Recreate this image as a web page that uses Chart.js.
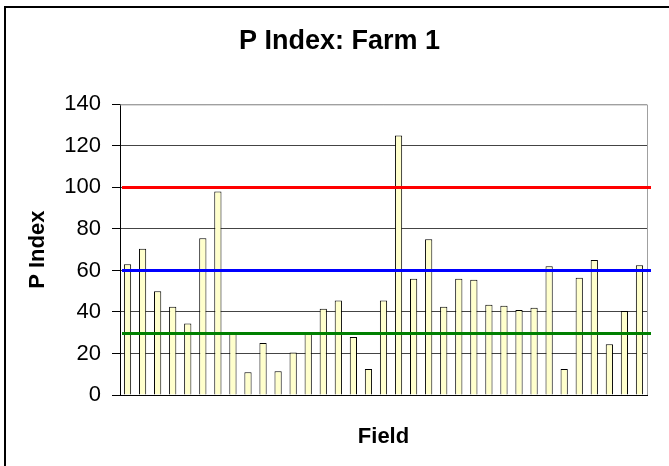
<!DOCTYPE html>
<html>
<head>
<meta charset="utf-8">
<script src="https://cdn.jsdelivr.net/npm/chart.js@4/dist/chart.umd.min.js"></script>
<style>
  body { margin: 0; background: #fff; }
  #wrap { position: relative; width: 669px; height: 466px; }
  #frame { position: absolute; left: 4px; top: 6px; right: 0; bottom: 0;
           border-left: 2px solid #000; border-top: 2px solid #000; pointer-events: none; }
</style>
</head>
<body>
<div id="wrap">
  <canvas id="pChart" width="669" height="466"></canvas>
  <div id="frame"></div>
</div>
<script>
// fields 1..35
const fields = [];
for (let i = 1; i <= 35; i++) fields.push(String(i));

const pIndex = [63, 70.5, 50, 42.5, 34.5, 75.5, 98, 29.5, 11, 25,
                11.5, 20.5, 29.5, 41.5, 45.5, 28, 12.5, 45.5, 125, 56,
                75, 42.5, 56, 55.5, 43.5, 43, 41, 42, 62, 12.5,
                56.5, 65, 24.5, 40.5, 62.5];

const yTicks = [0, 20, 40, 60, 80, 100, 120, 140];

// threshold lines (value, colour)
const refLevels = [100, 60, 30];
const refColors = ["#ff0000", "#0000ff", "#008000"];

const refLines = {
    id: "refLines",
    afterDatasetsDraw(chart) {
        const c = chart.ctx;
        const y = chart.scales.y;
        const area = chart.chartArea;
        c.save();
        // plot area border (grey top and right)
        c.strokeStyle = "#a0a0a0";
        c.lineWidth = 1;
        c.beginPath();
        c.moveTo(area.left, area.top + 0.5);
        c.lineTo(area.right + 0.5, area.top + 0.5);
        c.lineTo(area.right + 0.5, area.bottom);
        c.stroke();
        c.lineWidth = 3;
        refLevels.forEach((v, i) => {
            const py = Math.round(y.getPixelForValue(v)) + 0.5;
            c.strokeStyle = refColors[i];
            c.beginPath();
            c.moveTo(area.left + 2, py);
            c.lineTo(area.right + 4, py);
            c.stroke();
        });
        c.restore();
    }
};

new Chart("pChart", {
    type: "bar",
    data: {
        labels: fields,
        datasets: [{
            data: pIndex,
            backgroundColor: "#ffffcc",
            borderColor: "#000000",
            borderWidth: 1,
            barPercentage: 0.48,
            categoryPercentage: 1
        }]
    },
    options: {
        responsive: false,
        animation: false,
        layout: { padding: { left: 10, right: 0, top: 0, bottom: 0 } },
        plugins: {
            legend: { display: false },
            tooltip: { enabled: false },
            title: {
                display: true,
                text: "P Index: Farm 1",
                color: "#000",
                font: { family: "Arial, 'Liberation Sans'", size: 27, weight: "bold" },
                padding: { top: 25, bottom: 47 }
            }
        },
        scales: {
            x: {
                afterFit(s) { s.height = 71; },
                grid: { display: false },
                border: { display: true, color: "#000", width: 1 },
                ticks: { display: false },
                title: {
                    display: true,
                    text: "Field",
                    color: "#000",
                    font: { family: "Arial, 'Liberation Sans'", size: 22, weight: "bold" },
                    padding: { top: 0, bottom: 16 }
                }
            },
            y: {
                min: 0,
                max: 140,
                afterFit(s) { s.width = 110; },
                afterBuildTicks(s) { s.ticks = yTicks.map(v => ({ value: v })); },
                grid: {
                    color: ctx => (ctx.tick && ctx.tick.value === 140 ? "#a0a0a0" : "#444"),
                    lineWidth: 1,
                    tickLength: 8,
                    tickColor: "#000"
                },
                border: { display: true, color: "#000", width: 1 },
                ticks: {
                    color: "#000",
                    padding: 11,
                    font: { family: "Arial, 'Liberation Sans'", size: 22 }
                },
                title: {
                    display: true,
                    text: "P Index",
                    color: "#000",
                    font: { family: "Arial, 'Liberation Sans'", size: 22, weight: "bold" },
                    padding: { top: 15, bottom: 0 }
                }
            },
            // empty right-hand strip so the plot ends where the reference does
            y2: {
                position: "right",
                min: 0,
                max: 140,
                afterFit(s) { s.width = 22; },
                grid: { display: false },
                border: { display: false },
                ticks: { display: false }
            }
        }
    },
    plugins: [refLines]
});
</script>
</body>
</html>
